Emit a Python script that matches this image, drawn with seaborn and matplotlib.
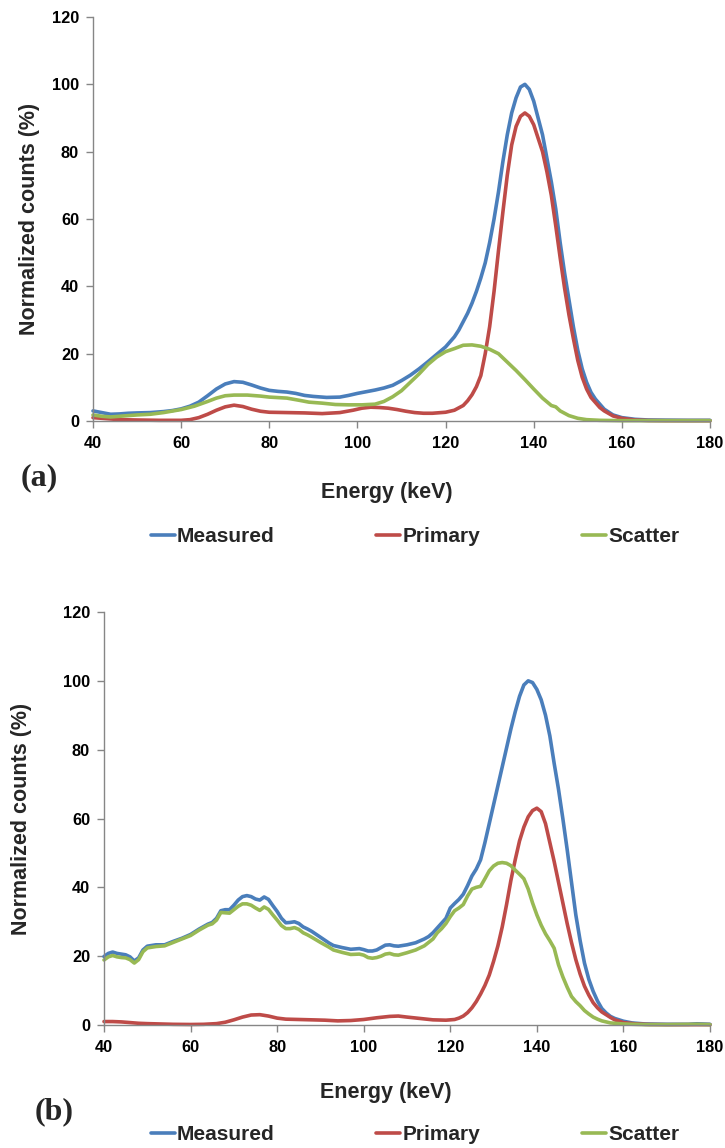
import matplotlib
matplotlib.use("Agg")
import matplotlib.pyplot as plt
import pandas as pd
import seaborn as sns

# ---------------------------------------------------------------- data
SERIES = ["Measured", "Primary", "Scatter"]
COLORS = ["#4A7EBB", "#BE4B48", "#98B954"]
X_TICKS = [40, 60, 80, 100, 120, 140, 160, 180]
Y_TICKS = [0, 20, 40, 60, 80, 100, 120]
X_LABEL = "Energy (keV)"
Y_LABEL = "Normalized counts (%)"

# Panel (a)
a_measured_kev = [40, 42, 44, 46, 48, 50, 53, 56, 58, 60,
                  62, 64, 66, 68, 70, 72, 74, 76, 78, 80, 82, 84, 86, 88, 90,
                  93, 96, 98,
                  100, 102, 104, 106, 108, 110, 112, 114, 116, 118, 120, 122,
                  123, 124, 125, 126, 127, 128, 129, 130, 131, 132, 133, 134,
                  135, 136, 137, 138, 139, 140, 141, 142, 143, 144,
                  145, 146, 147, 148, 149, 150, 151, 152, 153, 154, 155, 156,
                  158, 160, 163, 166, 170, 175, 180]
a_measured_pct = [3.0, 2.5, 2.0, 2.1, 2.3, 2.4, 2.5, 2.8, 3.1, 3.6,
                  4.4, 5.6, 7.5, 9.5, 11.0, 11.7, 11.5, 10.7, 9.8, 9.1, 8.8, 8.6, 8.2, 7.6, 7.3,
                  7.0, 7.1, 7.6,
                  8.2, 8.7, 9.2, 9.8, 10.6, 12.0, 13.6, 15.5, 17.6, 19.8, 22.0, 25.0,
                  27.0, 29.5, 32.0, 35.0, 38.5, 42.5, 47.0, 53.0, 60.0, 68.0, 77.0, 85.0,
                  91.5, 96.0, 99.2, 100.0, 98.5, 95.0, 90.0, 85.0, 78.0, 71.0,
                  63.0, 53.0, 44.0, 36.0, 28.0, 21.0, 15.5, 11.5, 8.5, 6.5, 5.0, 3.5,
                  1.8, 1.0, 0.5, 0.3, 0.25, 0.2, 0.2]

a_primary_kev = [40, 42, 44, 46, 50, 55, 60,
                 62, 64, 66, 68, 70, 72, 74, 76, 78, 80,
                 84, 88, 92, 96,
                 99, 101, 103, 105, 107, 109, 111, 113, 115, 117, 119,
                 120, 122,
                 124, 125, 126, 127, 128, 129, 130, 131, 132, 133, 134,
                 135, 136, 137, 138, 139, 140, 141, 142, 143, 144,
                 145, 146, 147, 148, 149, 150, 151, 152, 153, 154, 155, 156,
                 158, 160, 163, 166, 170, 180]
a_primary_pct = [1.0, 0.8, 0.6, 0.4, 0.3, 0.2, 0.2,
                 0.4, 1.0, 2.0, 3.2, 4.2, 4.7, 4.3, 3.5, 2.9, 2.6,
                 2.5, 2.4, 2.2, 2.5,
                 3.2, 3.8, 4.1, 4.0, 3.8, 3.4, 2.9, 2.5, 2.3, 2.3, 2.5,
                 2.6, 3.2,
                 4.6, 6.0, 7.8, 10.2, 13.5, 20.0, 28.0, 38.5, 50.5, 62.0, 73.0,
                 82.0, 87.5, 90.5, 91.5, 90.5, 88.0, 84.0, 80.0, 74.0, 67.0,
                 58.0, 48.5, 39.5, 31.5, 24.5, 18.0, 13.0, 9.5, 7.0, 5.5, 4.0, 3.0,
                 1.5, 0.8, 0.3, 0.15, 0.1, 0.1]

a_scatter_kev = [40, 42, 44, 46, 48, 50, 53, 56,
                 60, 63, 66, 68, 70, 72, 75, 78, 80,
                 84, 87, 89, 92, 95, 98,
                 101, 104, 106, 108, 110, 112, 114, 116, 118, 120,
                 122, 124, 126, 128, 130, 132, 134, 136, 138, 140, 142, 144,
                 145, 146, 148, 150, 152, 155, 160, 170, 180]
a_scatter_pct = [1.8, 1.4, 1.2, 1.4, 1.6, 1.8, 2.0, 2.5,
                 3.4, 4.4, 5.8, 6.8, 7.5, 7.7, 7.7, 7.4, 7.1,
                 6.8, 6.1, 5.6, 5.3, 4.9, 4.8,
                 4.8, 5.0, 5.8, 7.2, 9.0, 11.5, 14.0, 16.8, 19.0, 20.6,
                 21.5, 22.5, 22.6, 22.2, 21.3, 20.0, 17.5, 15.0, 12.3, 9.5, 6.8, 4.6,
                 4.2, 3.0, 1.6, 0.8, 0.4, 0.2, 0.1, 0.1, 0.1]

# Panel (b)
b_measured_kev = [40, 41, 42, 43, 44, 45, 46, 47, 48, 49, 50,
                  52, 54, 56, 58, 60, 62, 64,
                  65, 66, 67, 68, 69, 70, 71, 72, 73, 74, 75, 76, 77, 78, 79,
                  80, 81, 82, 83, 84, 85, 86, 87, 88,
                  90, 92, 93, 95, 97, 99,
                  100, 101, 102, 103, 104, 105, 106, 107, 108,
                  110, 112, 114,
                  115, 116, 117, 118, 119, 120, 121, 122, 123, 124,
                  125, 126, 127, 128, 129, 130, 131, 132, 133, 134,
                  135, 136, 137, 138, 139, 140, 141, 142, 143, 144,
                  145, 146, 147, 148, 149, 150, 151, 152, 153, 154,
                  155, 156, 157, 158, 160, 162, 165, 170, 175, 177, 180]
b_measured_pct = [19.9, 20.8, 21.2, 20.8, 20.6, 20.4, 19.8, 18.6, 19.5, 21.8, 22.9,
                  23.3, 23.3, 24.3, 25.2, 26.3, 27.9, 29.3,
                  29.8, 31.0, 33.2, 33.5, 33.5, 34.8, 36.3, 37.3, 37.6, 37.3, 36.6, 36.3, 37.2, 36.5, 34.7,
                  33.0, 31.0, 29.7, 29.8, 30.0, 29.5, 28.5, 27.9, 27.2,
                  25.5, 23.8, 23.1, 22.5, 22.0, 22.2,
                  21.9, 21.5, 21.5, 21.8, 22.5, 23.2, 23.3, 23.0, 22.9,
                  23.3, 23.9, 25.0,
                  25.7, 26.8, 28.2, 29.6, 31.0, 34.0, 35.3, 36.5, 38.0, 40.5,
                  43.3, 45.3, 48.0, 53.0, 58.5, 64.0, 69.5, 75.0, 80.5, 86.0,
                  91.0, 95.5, 98.8, 100.0, 99.5, 97.5, 94.5, 90.0, 84.0, 76.0,
                  68.5, 60.0, 51.0, 41.5, 32.0, 24.5, 18.0, 13.3, 9.8, 7.0,
                  4.8, 3.5, 2.5, 1.9, 1.1, 0.6, 0.3, 0.2, 0.2, 0.35, 0.2]

b_primary_kev = [40, 42, 44, 46, 48, 50, 53, 56, 60, 63,
                 66, 68, 70, 72, 74, 76, 78, 80, 82, 85,
                 88, 91, 94, 97, 100, 103, 106, 108, 110, 113,
                 116, 119, 121, 122, 123, 124,
                 125, 126, 127, 128, 129, 130, 131, 132, 133, 134,
                 135, 136, 137, 138, 139, 140, 141, 142, 143, 144,
                 145, 146, 147, 148, 149, 150, 151, 152, 153, 154,
                 155, 156, 157, 158, 160, 163, 166, 170, 180]
b_primary_pct = [1.0, 1.0, 0.9, 0.7, 0.5, 0.4, 0.3, 0.2, 0.15, 0.2,
                 0.4, 0.8, 1.5, 2.3, 2.9, 3.0, 2.6, 2.0, 1.7, 1.6,
                 1.5, 1.4, 1.2, 1.3, 1.6, 2.1, 2.5, 2.6, 2.3, 1.9,
                 1.5, 1.4, 1.6, 2.0, 2.6, 3.6,
                 5.0, 6.8, 9.0, 11.5, 14.5, 18.5, 23.0, 28.5, 35.0, 42.0,
                 48.0, 53.5, 57.5, 60.5, 62.3, 63.0, 62.0, 58.5, 53.0, 47.5,
                 41.5, 35.5, 29.5, 24.0, 19.0, 14.8, 11.3, 8.7, 6.5, 5.0,
                 3.8, 3.0, 2.2, 1.5, 0.7, 0.3, 0.15, 0.1, 0.1]

b_scatter_kev = [40, 41, 42, 43, 44, 45, 46, 47, 48, 49, 50,
                 52, 54, 56, 58, 60, 62, 64,
                 65, 66, 67, 68, 69, 70, 71, 72, 73, 74, 75, 76, 77, 78, 79,
                 80, 81, 82, 83, 84, 85, 86, 87, 88,
                 90, 92, 93, 95, 97, 99,
                 100, 101, 102, 103, 104, 105, 106, 107, 108,
                 110, 112, 114,
                 116, 117, 118, 119, 120, 121, 122, 123, 124,
                 125, 126, 127, 128, 129, 130, 131, 132, 133, 134,
                 135, 136, 137, 138, 139, 140, 141, 142, 143, 144,
                 145, 146, 147, 148, 149, 150, 151, 152, 153, 154,
                 155, 157, 160, 165, 170, 177, 180]
b_scatter_pct = [18.9, 19.8, 20.2, 19.8, 19.6, 19.5, 19.0, 18.0, 19.0, 21.3, 22.4,
                 22.8, 23.0, 24.0, 25.0, 26.0, 27.6, 29.0,
                 29.4, 30.5, 32.7, 32.6, 32.5, 33.5, 34.5, 35.2, 35.2, 34.8, 34.0, 33.3, 34.3, 33.6, 32.0,
                 30.5, 28.9, 28.0, 28.0, 28.3, 27.8, 26.8, 26.2, 25.5,
                 24.0, 22.6, 21.8, 21.1, 20.5, 20.6,
                 20.3, 19.6, 19.4, 19.6, 20.0, 20.6, 20.8, 20.4, 20.3,
                 21.0, 21.8, 23.0,
                 25.0, 26.8, 28.0, 29.5, 31.5, 33.2, 34.0, 35.0, 37.5,
                 39.5, 40.0, 40.3, 42.5, 44.8, 46.2, 47.0, 47.2, 47.0, 46.3,
                 45.0, 43.8, 42.5, 39.5, 35.5, 32.0, 29.0, 26.5, 24.5, 22.3,
                 17.5, 14.0, 11.0, 8.3, 6.8, 5.6, 4.2, 3.2, 2.3, 1.7,
                 1.2, 0.6, 0.3, 0.1, 0.1, 0.2, 0.1]


def long_frame(measured, primary, scatter):
    """Stack the three spectra of one panel into a long-form table."""
    parts = []
    for name, (kev, pct) in zip(SERIES, (measured, primary, scatter)):
        assert len(kev) == len(pct), name
        parts.append(pd.DataFrame({"Energy": kev, "Counts": pct, "Series": name}))
    return pd.concat(parts, ignore_index=True)


spectra_a = long_frame((a_measured_kev, a_measured_pct),
                       (a_primary_kev, a_primary_pct),
                       (a_scatter_kev, a_scatter_pct))
spectra_b = long_frame((b_measured_kev, b_measured_pct),
                       (b_primary_kev, b_primary_pct),
                       (b_scatter_kev, b_scatter_pct))

# ---------------------------------------------------------------- style
sns.set_theme(style="white")
plt.rcParams["font.family"] = ["Liberation Sans", "DejaVu Sans"]
plt.rcParams["font.weight"] = "bold"
plt.rcParams["axes.labelweight"] = "bold"

AXIS_GREY = "#868686"
W, H = 725, 1148


def rect(left, right, top, bottom):
    """Axes rectangle from pixel edges (origin top-left)."""
    return [left / W, 1 - bottom / H, (right - left) / W, (bottom - top) / H]


fig = plt.figure(figsize=(W / 100, H / 100), dpi=100)

panels = [
    dict(data=spectra_a, box=rect(93, 710, 17, 421), tag="(a)", tag_xy=(21, 478),
         legend_y=537, xlabel_xy=(0.476, -0.152), ylabel_xy=(-0.086, 0.5)),
    dict(data=spectra_b, box=rect(104, 710, 612, 1025), tag="(b)", tag_xy=(35, 1112),
         legend_y=1135, xlabel_xy=(0.465, -0.138), ylabel_xy=(-0.118, 0.5)),
]

for p in panels:
    ax = fig.add_axes(p["box"])
    sns.lineplot(data=p["data"], x="Energy", y="Counts", hue="Series",
                 hue_order=SERIES, palette=COLORS, linewidth=2.6,
                 errorbar=None, legend=False, ax=ax,
                 solid_joinstyle="round", solid_capstyle="round", clip_on=False)

    ax.set_xlim(40, 180)
    ax.set_ylim(0, 120)
    ax.set_xticks(X_TICKS)
    ax.set_yticks(Y_TICKS)
    for side in ("top", "right"):
        ax.spines[side].set_visible(False)
    for side in ("left", "bottom"):
        ax.spines[side].set_color(AXIS_GREY)
        ax.spines[side].set_linewidth(1.0)
    ax.tick_params(bottom=True, left=True, direction="out", length=5, width=1,
                   color=AXIS_GREY, labelsize=11.8, labelcolor="black")
    ax.tick_params(axis="x", pad=6)
    ax.tick_params(axis="y", pad=5)

    ax.set_xlabel(X_LABEL, fontsize=15.5)
    ax.set_ylabel(Y_LABEL, fontsize=15.5)
    ax.xaxis.set_label_coords(*p["xlabel_xy"])
    ax.yaxis.set_label_coords(*p["ylabel_xy"])

    ax.legend(ax.get_lines()[:3], SERIES, loc="center",
              bbox_to_anchor=(415 / W, 1 - p["legend_y"] / H),
              bbox_transform=fig.transFigure, ncol=3, frameon=False,
              prop={"size": 15, "weight": "bold"}, handlelength=1.15,
              handletextpad=0.1, columnspacing=4.9, borderaxespad=0)

    fig.text(p["tag_xy"][0] / W, 1 - p["tag_xy"][1] / H, p["tag"],
             family=["Liberation Serif", "DejaVu Serif"], weight="bold",
             fontsize=23, ha="left", va="center")

fig.savefig("out.png", dpi=100)
